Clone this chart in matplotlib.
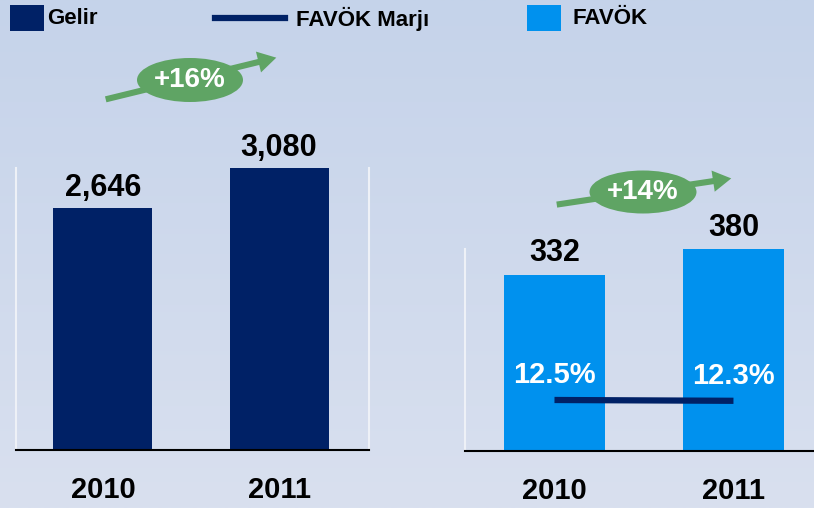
import numpy as np
import matplotlib.pyplot as plt
from matplotlib.patches import Rectangle, Ellipse, FancyArrowPatch
from matplotlib.lines import Line2D

plt.rcParams['font.family'] = ['Liberation Sans', 'DejaVu Sans']
plt.rcParams['font.weight'] = 'bold'

years = ['2010', '2011']
gelir = [2646, 3080]
favok = [332, 380]
marj = [12.5, 12.3]

NAVY = '#002166'
LIGHT = '#0091EE'
GREEN = '#5FA464'

W, H = 814, 508
fig = plt.figure(figsize=(W / 100, H / 100), dpi=100)

def fx(px):
    return px / W

def fy(py):
    return 1 - py / H

# background gradient
bg = fig.add_axes([0, 0, 1, 1], zorder=-10)
top = np.array([197, 211, 234]) / 255
bot = np.array([217, 224, 239]) / 255
t = np.linspace(0, 1, 256)[:, None]
grad = (top * (1 - t) + bot * t)[:, None, :]
bg.imshow(grad, aspect='auto', extent=[0, 1, 0, 1])
bg.axis('off')

def style(ax, right_spine=True):
    ax.set_facecolor('none')
    ax.spines['top'].set_visible(False)
    ax.spines['left'].set_color('#EEF1F7')
    ax.spines['left'].set_linewidth(1.5)
    ax.spines['right'].set_visible(right_spine)
    ax.spines['right'].set_color('#EEF1F7')
    ax.spines['right'].set_linewidth(1.5)
    ax.spines['bottom'].set_color('black')
    ax.spines['bottom'].set_linewidth(1.5)
    ax.set_yticks([])
    ax.set_xticks(range(len(years)))
    ax.set_xticklabels(years, fontsize=21, fontweight='bold')
    ax.tick_params(axis='x', length=0, pad=19)

# left panel: Gelir
ax1 = fig.add_axes([fx(16), fy(450), 353 / W, 282 / H])
x = np.arange(len(years))
ax1.bar(x, gelir, width=0.5625, color=NAVY)
ax1.set_xlim(-0.494, 1.511)
ax1.set_ylim(0, max(gelir))
style(ax1)
for i, v in enumerate(gelir):
    ax1.annotate(f'{v:,}', (i, v), xytext=(0, 8.5), textcoords='offset points',
                 ha='center', va='baseline', fontsize=22, fontweight='bold',
                 annotation_clip=False)

# right panel: FAVÖK + margin
ax2 = fig.add_axes([fx(465), fy(451), 349 / W, 202 / H])
ax2.bar(x, favok, width=0.564, color=LIGHT)
ax2.set_xlim(-0.5, 1.45)
ax2.set_ylim(0, max(favok))
style(ax2, right_spine=False)
for i, v in enumerate(favok):
    ax2.annotate(f'{v}', (i, v), xytext=(0, 9.5), textcoords='offset points',
                 ha='center', va='baseline', fontsize=22, fontweight='bold',
                 annotation_clip=False)

ax3 = ax2.twinx()
ax3.set_ylim(0, 49.5)
ax3.axis('off')
ax3.plot(x, marj, color=NAVY, lw=4.5, solid_capstyle='butt')
for i, v in enumerate(marj):
    ax3.annotate(f'{v}%', (i, v), xytext=(0, 12), textcoords='offset points',
                 ha='center', va='baseline', fontsize=21, fontweight='bold',
                 color='white')

# growth badges
def badge(tail, tip, center, w, h, label):
    arr = FancyArrowPatch((fx(tail[0]), fy(tail[1])), (fx(tip[0]), fy(tip[1])),
                          transform=fig.transFigure,
                          arrowstyle='simple,head_length=1.2,head_width=1.4,tail_width=0.4',
                          mutation_scale=11, color=GREEN, lw=0)
    fig.add_artist(arr)
    ell = Ellipse((fx(center[0]), fy(center[1])), w / W, h / H,
                  transform=fig.transFigure, color=GREEN, lw=0)
    fig.add_artist(ell)
    fig.text(fx(center[0]), fy(center[1]), label, ha='center', va='center',
             fontsize=20, fontweight='bold', color='white')

g1 = round((gelir[1] / gelir[0] - 1) * 100)
g2 = round((favok[1] / favok[0] - 1) * 100)
badge((103, 100), (279, 57), (190, 80), 106, 44, f'+{g1}%')
badge((554, 205), (734, 178), (643, 192), 107, 43, f'+{g2}%')

# legend
leg_font = ['Liberation Sans Narrow', 'Liberation Sans']
fig.add_artist(Rectangle((fx(10), fy(31)), 34 / W, 26 / H, transform=fig.transFigure,
                         color=NAVY, lw=0))
fig.text(fx(47), fy(19), 'Gelir', ha='left', va='center', fontsize=16,
         fontweight='bold', family=leg_font)
fig.add_artist(Line2D([fx(215), fx(285)], [fy(18), fy(18)], transform=fig.transFigure,
                      color=NAVY, lw=4.5))
fig.text(fx(296), fy(19), 'FAVÖK Marjı', ha='left', va='center', fontsize=16,
         fontweight='bold', family=leg_font)
fig.add_artist(Rectangle((fx(527), fy(31)), 34 / W, 26 / H, transform=fig.transFigure,
                         color=LIGHT, lw=0))
fig.text(fx(572), fy(19), 'FAVÖK', ha='left', va='center', fontsize=16,
         fontweight='bold', family=leg_font)

fig.savefig('out.png', dpi=100)
